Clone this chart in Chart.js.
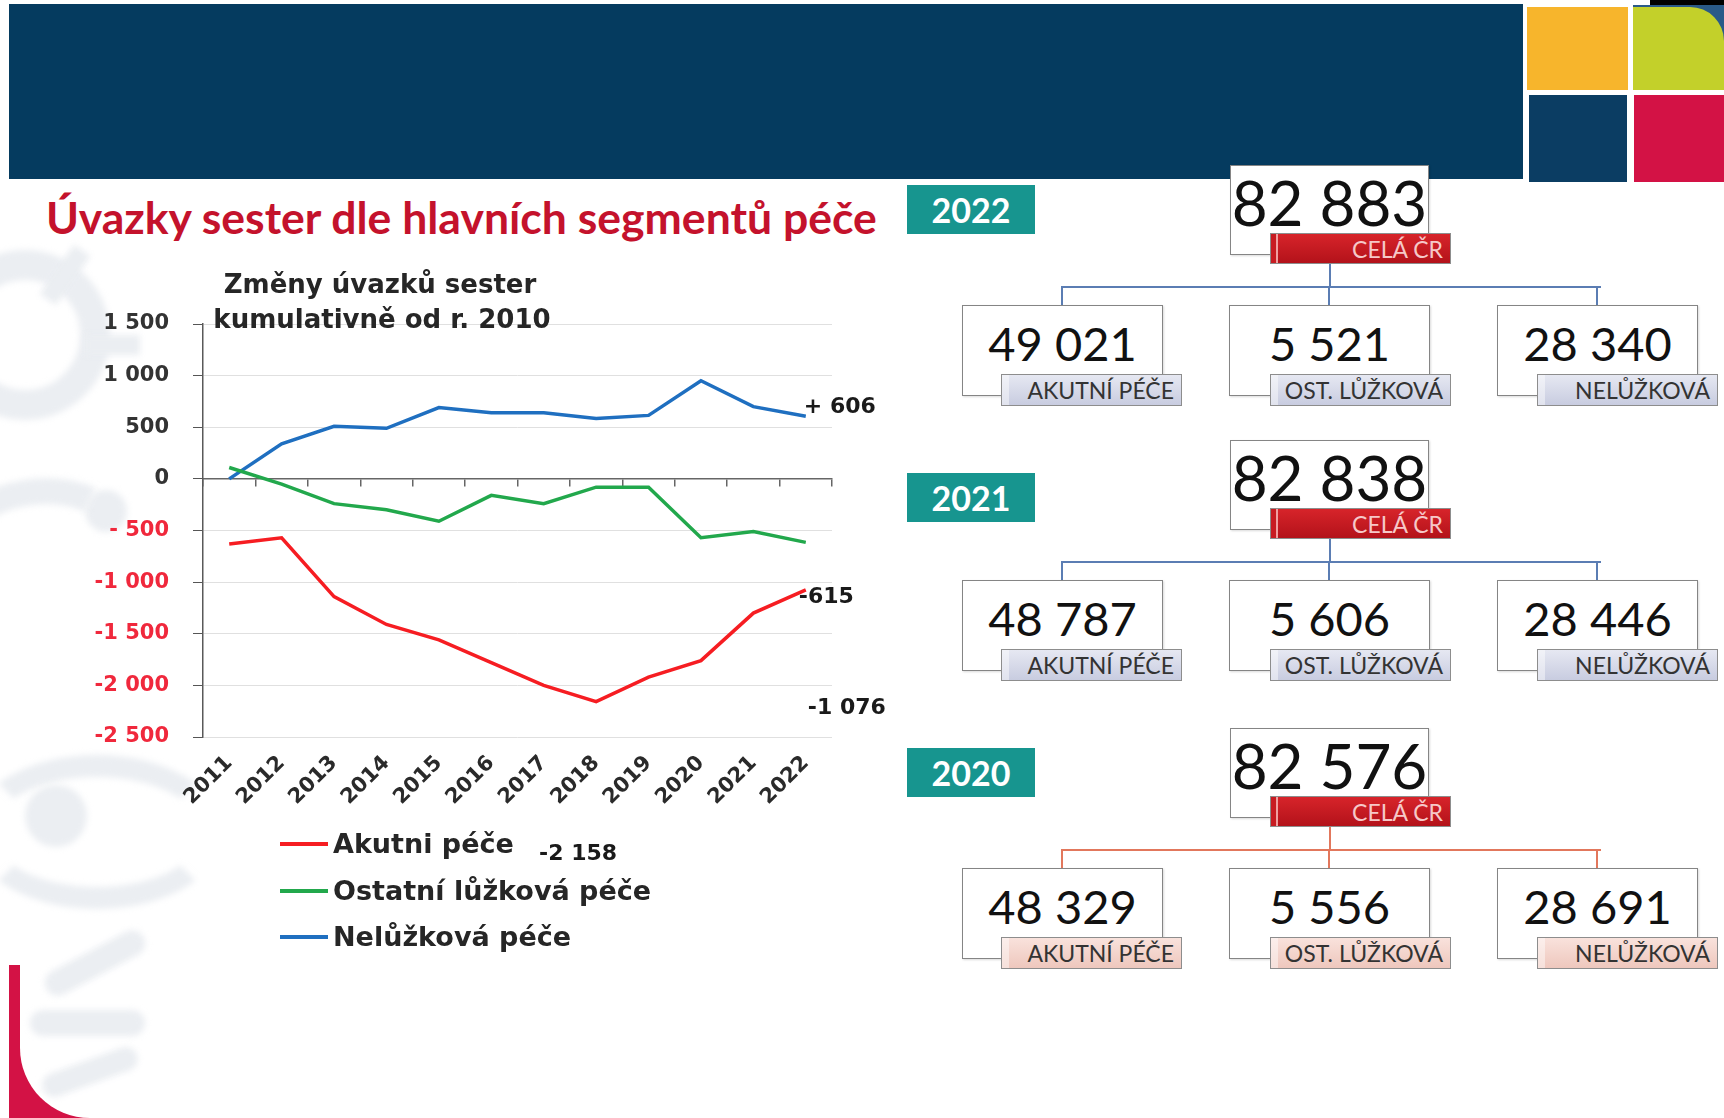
<!DOCTYPE html>
<html>
<head>
<meta charset="utf-8">
<script src="https://cdn.jsdelivr.net/npm/chart.js@4.4.0/dist/chart.umd.min.js"></script>
<style>
    body { margin: 0; width: 1724px; height: 1118px; position: relative; overflow: hidden; background: #fff; font-family: Lato, sans-serif; }
    .abs { position: absolute; }
    .wm { position: absolute; background: #ebeef2; filter: blur(3px); }
    #banner { left: 9px; top: 4px; width: 1514px; height: 175px; background: #053b5f; }
    #title { left: 46px; top: 190px; font: 700 38px Lato, sans-serif; color: #c4122c; white-space: nowrap; }
    .ctitle { font: 700 26px "DejaVu Sans", sans-serif; color: #262626; white-space: nowrap; transform: translateX(-50%); }
    .leg { left: 280px; font: 700 27px "DejaVu Sans", sans-serif; color: #262626; white-space: nowrap; display: flex; align-items: center; }
    .leg span.ln { display: inline-block; width: 48px; height: 4px; margin-right: 5px; }
    .teal { width: 128px; height: 49px; background: #17958f; color: #fff; font: 700 34px Lato, sans-serif; display: flex; align-items: center; justify-content: center; }
    .box { background: #fff; border: 1.5px solid #858585; box-sizing: border-box; box-shadow: 1px 1px 2px rgba(0,0,0,.15); }
    .num { text-align: center; font-family: Lato, sans-serif; color: #111; line-height: 1; white-space: nowrap; }
    .lbl { box-sizing: border-box; border: 1.5px solid #8d8d8d; display: flex; align-items: center; justify-content: flex-end; padding-right: 7px; font: 400 23px Lato, sans-serif; color: #333; white-space: nowrap; }
    .red { background: linear-gradient(#d7242a, #b3121a); color: #f6c8c8; box-shadow: inset 5px 0 0 #c81c22, inset 7px 0 0 #f0a0a0; }
</style>
</head>
<body>
<div class="abs" style="left:9px;top:965px;width:80px;height:153px;background:#d31245"></div>
<div class="abs" style="left:20px;top:880px;width:160px;height:238px;background:#fff;border-bottom-left-radius:70px"></div>

<div class="abs" style="left:-60px;top:250px;width:110px;height:110px;border:30px solid #ebeef2;border-radius:50%;filter:blur(3px)"></div>
<div class="wm" style="left:55px;top:245px;width:20px;height:60px;transform:rotate(35deg)"></div>
<div class="wm" style="left:85px;top:335px;width:55px;height:20px"></div>
<div class="wm" style="left:85px;top:490px;width:42px;height:42px;border-radius:50%"></div>
<div class="abs" style="left:-90px;top:480px;width:200px;height:170px;border:26px solid #ebeef2;border-color:#ebeef2 transparent transparent #ebeef2;border-radius:50%;transform:rotate(-20deg);filter:blur(3px)"></div>
<div class="abs" style="left:-30px;top:755px;width:210px;height:110px;border:22px solid #ebeef2;border-color:#ebeef2 transparent #ebeef2 transparent;border-radius:50%;filter:blur(3px)"></div>
<div class="wm" style="left:25px;top:785px;width:62px;height:62px;border-radius:50%"></div>
<div class="wm" style="left:40px;top:950px;width:110px;height:26px;border-radius:13px;transform:rotate(-28deg)"></div>
<div class="wm" style="left:30px;top:1010px;width:115px;height:26px;border-radius:13px"></div>
<div class="wm" style="left:40px;top:1060px;width:100px;height:24px;border-radius:12px;transform:rotate(-20deg)"></div>

<div id="banner" class="abs"></div>
<div class="abs" style="left:1633px;top:5px;width:91px;height:90px;background:#2a5a88"></div>
<div class="abs" style="left:1650px;top:0;width:74px;height:5px;background:#000"></div>
<div class="abs" style="left:1527px;top:7px;width:101px;height:83px;background:#f7b52c"></div>
<div class="abs" style="left:1633px;top:7px;width:91px;height:83px;background:#c3d02a;border-top-right-radius:34px"></div>
<div class="abs" style="left:1633px;top:90px;width:91px;height:5px;background:#fff"></div>
<div class="abs" style="left:1529px;top:95px;width:98px;height:87px;background:#0b3d63"></div>
<div class="abs" style="left:1634px;top:95px;width:90px;height:87px;background:#d31245"></div>

<div id="title" class="abs">Úvazky sester dle hlavních segmentů péče</div>

<canvas id="chart" class="abs" width="900" height="600" style="left:20px;top:280px"></canvas>
<div class="abs ctitle" style="left:380px;top:269px">Změny úvazků sester</div>
<div class="abs ctitle" style="left:382px;top:304px">kumulativně od r. 2010</div>
<div id="legend"></div>
<div id="panels"></div>

<script>
const years = ["2011", "2012", "2013", "2014", "2015", "2016", "2017", "2018", "2019", "2020", "2021", "2022"];
const akutni = [-630, -570, -1140, -1410, -1560, -1780, -2000, -2158, -1920, -1760, -1300, -1076];
const ostatni = [110, -50, -240, -300, -410, -160, -240, -80, -80, -570, -510, -615];
const neluzkova = [0, 340, 510, 490, 690, 640, 640, 585, 615, 950, 700, 606];
const seriesNames = ["Akutni péče", "Ostatní lůžková péče", "Nelůžková péče"];
const seriesColors = ["#f61d22", "#22a84c", "#1f6fc0"];
const endLabels = ["+ 606", "-615", "-1 076", "-2 158"];

const panelYears = ["2022", "2021", "2020"];
const totals = ["82 883", "82 838", "82 576"];
const acuteCare = ["49 021", "48 787", "48 329"];
const otherBeds = ["5 521", "5 606", "5 556"];
const outpatient = ["28 340", "28 446", "28 691"];
const segmentNames = ["AKUTNÍ PÉČE", "OST. LŮŽKOVÁ", "NELŮŽKOVÁ"];
const totalName = "CELÁ ČR";

// fit slide title to its width in the picture
let titleEl = document.getElementById("title");
let w0 = titleEl.getBoundingClientRect().width;
titleEl.style.fontSize = (38 * 831 / w0) + "px";

function formatTick(v) {
    if (v === 0) return "0";
    let a = Math.abs(v);
    let s = a >= 1000 ? Math.floor(a / 1000) + " " + String(a % 1000).padStart(3, "0") : String(a);
    if (v < 0) return (a < 1000 ? "- " : "-") + s;
    return s;
}

// legend
let legend = document.getElementById("legend");
const legendTops = [828, 875, 921];
seriesNames.forEach(function (name, i) {
    legend.innerHTML += `<div class="abs leg" style="top:${legendTops[i]}px"><span class="ln" style="background:${seriesColors[i]}"></span>${name}</div>`;
});

// end-of-line notes, placed in scale units
const notes = [
    {text: endLabels[0], index: 11, value: 690, dx: -2, align: "left"},
    {text: endLabels[1], index: 11, value: -1145, dx: -7, align: "left"},
    {text: endLabels[2], index: 11, value: -2222, dx: 2, align: "left"},
    {text: endLabels[3], index: 7, value: -3640, dx: -18, align: "center"}
];

const notesPlugin = {
    id: "notes",
    afterDraw(chart) {
        const ctx = chart.ctx;
        ctx.save();
        ctx.font = "bold 22px 'DejaVu Sans'";
        ctx.fillStyle = "#1a1a1a";
        ctx.textBaseline = "middle";
        for (const n of notes) {
            ctx.textAlign = n.align;
            ctx.fillText(n.text, chart.scales.x.getPixelForValue(n.index) + n.dx, chart.scales.y.getPixelForValue(n.value));
        }
        ctx.restore();
    }
};

Chart.defaults.font.family = "'DejaVu Sans', sans-serif";

const lineData = {
    labels: years,
    datasets: [akutni, ostatni, neluzkova].map((d, i) => ({
        label: seriesNames[i],
        data: d,
        borderColor: seriesColors[i],
        backgroundColor: seriesColors[i],
        borderWidth: 3.5,
        pointRadius: 0,
        tension: 0
    }))
};

const chart = new Chart(document.getElementById("chart"), {
    type: "line",
    data: lineData,
    options: {
        responsive: false,
        animation: false,
        devicePixelRatio: 1,
        layout: {padding: {left: 0, right: 88, top: 44, bottom: 0}},
        plugins: {legend: {display: false}, tooltip: {enabled: false}},
        scales: {
            x: {
                offset: true,
                grid: {display: false},
                border: {display: false},
                ticks: {
                    autoSkip: false, minRotation: 45, maxRotation: 45, padding: 6,
                    color: "#2a2a2a", font: {size: 21, weight: "bold"}
                },
                afterFit(scale) { scale.height = 143; }
            },
            x2: {
                type: "category",
                position: {y: 0},
                offset: true,
                grid: {drawOnChartArea: false, drawTicks: true, tickLength: 7, offset: true, color: "#666", lineWidth: 1.5},
                border: {display: true, color: "#666", width: 1.5},
                ticks: {display: false}
            },
            y: {
                min: -2500,
                max: 1500,
                ticks: {
                    stepSize: 500,
                    padding: 24,
                    font: {size: 21, weight: "bold"},
                    color: ctx => ctx.tick.value < 0 ? "#f0283c" : "#333",
                    callback: v => formatTick(v)
                },
                grid: {color: "#e0e0e0", lineWidth: 1, tickLength: 10, tickColor: "#555"},
                border: {display: true, color: "#595959", width: 1.5},
                afterFit(scale) { scale.width = 183; }
            }
        }
    },
    plugins: [notesPlugin]
});

// right-hand panels
const panelTops = [165, 440, 728];
const tealOffsets = [20, 33, 20];
const childLeft = [962, 1229, 1497];
const labelLeft = [1001, 1270, 1537];
const connColors = ["#5b7db3", "#5b7db3", "#e2775c"];
const labelBgs = ["linear-gradient(#e6e8f2, #c8cce0)", "linear-gradient(#e6e8f2, #c8cce0)", "linear-gradient(#f9e2dc, #eec7bd)"];

let panels = document.getElementById("panels");
panelYears.forEach(function (year, g) {
    let T = panelTops[g];
    let children = [acuteCare[g], otherBeds[g], outpatient[g]];
    let html = `<div class="abs teal" style="left:907px;top:${T + tealOffsets[g]}px">${year}</div>`;
    html += `<div class="abs" style="left:1329px;top:${T + 99}px;width:1.5px;height:23px;background:${connColors[g]}"></div>`;
    html += `<div class="abs" style="left:1061px;top:${T + 121}px;width:540px;height:1.5px;background:${connColors[g]}"></div>`;
    children.forEach(function (c, k) {
        html += `<div class="abs" style="left:${childLeft[k] + 99}px;top:${T + 121}px;width:1.5px;height:20px;background:${connColors[g]}"></div>`;
    });
    html += `<div class="abs box" style="left:1230px;top:${T}px;width:199px;height:90px"></div>`;
    html += `<div class="abs num" style="left:1230px;top:${T + 6}px;width:199px;font-size:62px">${totals[g]}</div>`;
    html += `<div class="abs lbl red" style="left:1270px;top:${T + 68}px;width:181px;height:31px">${totalName}</div>`;
    children.forEach(function (c, k) {
        html += `<div class="abs box" style="left:${childLeft[k]}px;top:${T + 140}px;width:201px;height:91px"></div>`;
        html += `<div class="abs num" style="left:${childLeft[k]}px;top:${T + 155}px;width:201px;font-size:47px">${c}</div>`;
        html += `<div class="abs lbl" style="left:${labelLeft[k]}px;top:${T + 209}px;width:181px;height:32px;background:${labelBgs[g]};box-shadow:inset 7px 0 0 rgba(255,255,255,.45)">${segmentNames[k]}</div>`;
    });
    panels.innerHTML += html;
});
</script>
</body>
</html>
